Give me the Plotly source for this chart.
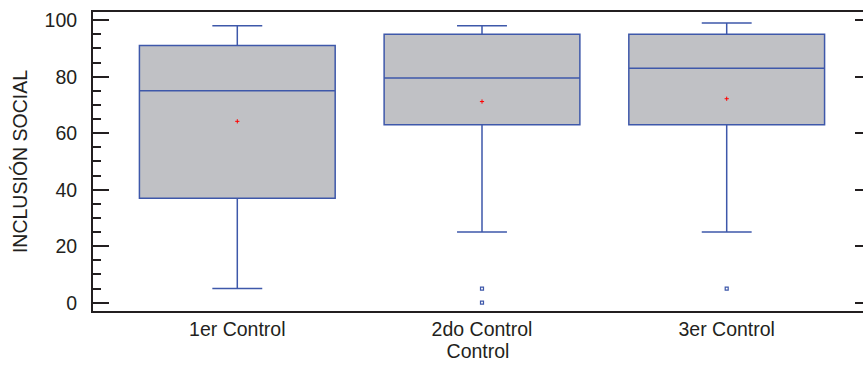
import plotly.graph_objects as go

# Box-plot summary per control round
categories = ["1er Control", "2do Control", "3er Control"]
lower_whisker = [5, 25, 25]
q1_values = [37, 63, 63]
median_values = [75, 79.5, 83]
q3_values = [91, 95, 95]
upper_whisker = [98, 98, 99]
mean_values = [64.2, 71.2, 72.2]

# Points beyond the whiskers
outlier_group = [1, 1, 2]
outlier_values = [5, 0, 5]

positions = list(range(len(categories)))

TEXT = "#231f20"
FONT = "Liberation Sans, Arial, Helvetica, sans-serif"
BLUE = "rgb(62,88,170)"

fig = go.Figure()

fig.add_trace(go.Box(
    x=positions,
    q1=q1_values,
    median=median_values,
    q3=q3_values,
    lowerfence=lower_whisker,
    upperfence=upper_whisker,
    width=0.8,
    whiskerwidth=0.255,
    fillcolor="rgb(192,193,197)",
    line=dict(color=BLUE, width=1.5),
    boxpoints=False,
    hoverinfo="skip",
    showlegend=False,
))

fig.add_trace(go.Scatter(
    x=outlier_group,
    y=outlier_values,
    mode="markers",
    marker=dict(symbol="square-open", size=3, color=BLUE, line=dict(width=1.2, color=BLUE)),
    showlegend=False,
    hoverinfo="skip",
))

fig.add_trace(go.Scatter(
    x=positions,
    y=mean_values,
    yaxis="y2",
    mode="markers",
    marker=dict(symbol="cross-thin", size=3, color="red", line=dict(width=1, color="red")),
    showlegend=False,
    hoverinfo="skip",
))

y_range = [-2.94, 102.9]

fig.update_layout(
    width=863,
    height=365,
    margin=dict(l=93, r=0, t=12, b=54),
    paper_bgcolor="white",
    plot_bgcolor="white",
    font=dict(family=FONT, size=19, color=TEXT),
    xaxis=dict(
        range=[-0.5897, 2.557],
        tickmode="array",
        tickvals=positions,
        ticktext=categories,
        ticks="",
        showgrid=False,
        zeroline=False,
        showline=True,
        linewidth=2,
        linecolor=TEXT,
        mirror=True,
        tickfont=dict(size=19.5),
        title=dict(text="Control", font=dict(size=19.5), standoff=4),
    ),
    yaxis=dict(
        range=y_range,
        dtick=20,
        tick0=0,
        ticks="inside",
        ticklen=16,
        tickwidth=2,
        tickcolor=TEXT,
        minor=dict(dtick=5, ticks="inside", ticklen=8, tickwidth=1.5, tickcolor=TEXT),
        showgrid=False,
        zeroline=False,
        showline=True,
        linewidth=2,
        linecolor=TEXT,
        mirror=False,
        tickfont=dict(size=19.5),
        ticklabelstandoff=10,
        title=dict(text="INCLUSIÓN SOCIAL", font=dict(size=19.5), standoff=12),
    ),
    yaxis2=dict(
        range=y_range,
        overlaying="y",
        side="right",
        anchor="x",
        dtick=20,
        tick0=0,
        ticks="inside",
        ticklen=8,
        tickwidth=2,
        tickcolor=TEXT,
        showticklabels=False,
        showgrid=False,
        zeroline=False,
        showline=False,
    ),
)

fig.write_html("out.html")
